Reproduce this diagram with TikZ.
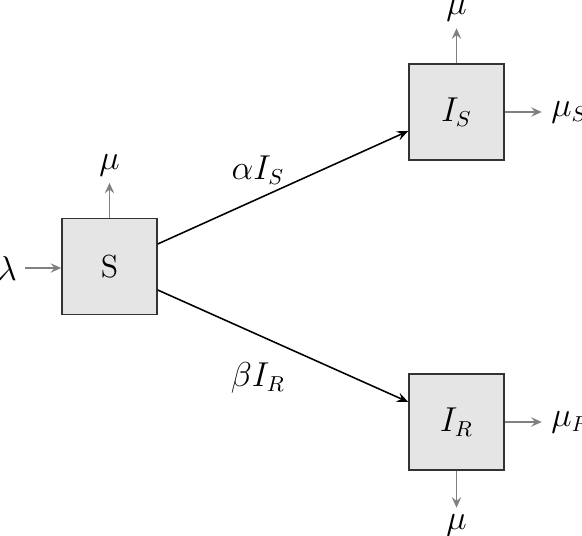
\documentclass[tikz,border=0pt]{standalone}
\usetikzlibrary{arrows.meta,calc}
\begin{document}
\begin{tikzpicture}[x=0.4167pt,y=-0.4167pt,
  every node/.style={text=black, font=\fontsize{13.3}{16}\selectfont},
  comp/.style={draw=black!80, fill=black!10, line width=0.6pt, minimum width=39.6pt, minimum height=40pt, inner sep=0pt},
  flow/.style={-{Stealth[length=4.8pt,width=4pt,inset=1.8pt]}, line width=0.65pt, black},
  outflow/.style={-{Stealth[length=4.4pt,width=3.9pt,inset=1.6pt]}, line width=0.75pt, black!50}]
\useasboundingbox (0,0) rectangle (582,535);
\node[comp] (S) at (109.5,266.5) {S};
\node[comp] (IS) at (456.5,112) {$I_S$};
\node[comp] (IR) at (456.5,422) {$I_R$};
\draw[flow] ($(S.east)+(0,-22.5)$) -- ($(IS.west)+(0,19)$);
\draw[flow] ($(S.east)+(0,23.5)$) -- ($(IR.west)+(0,-20)$);
\node (la) at (258,170) {$\alpha I_S$};
\node (lb) at (258,378) {$\beta I_R$};
\node (lam) at (7,268) {$\lambda$};
\draw[outflow] (lam) -- (S.west |- lam);
\draw[outflow] (S.north) -- ++(0,-35) node[above, inner sep=2.5pt] (muS) {$\mu$};
\draw[outflow] (IS.north) -- ++(0,-35) node[above, inner sep=2.5pt] (muIS) {$\mu$};
\draw[outflow] (IS.east) -- ++(37,0) node[right, inner sep=3.6pt] (muSS) {$\mu_S$};
\draw[outflow] (IR.east) -- ++(37,0) node[right, inner sep=3.6pt] (muRR) {$\mu_R$};
\draw[outflow] (IR.south) -- ++(0,37) node[below, inner sep=2.5pt] (muIR) {$\mu$};
\end{tikzpicture}
\end{document}
